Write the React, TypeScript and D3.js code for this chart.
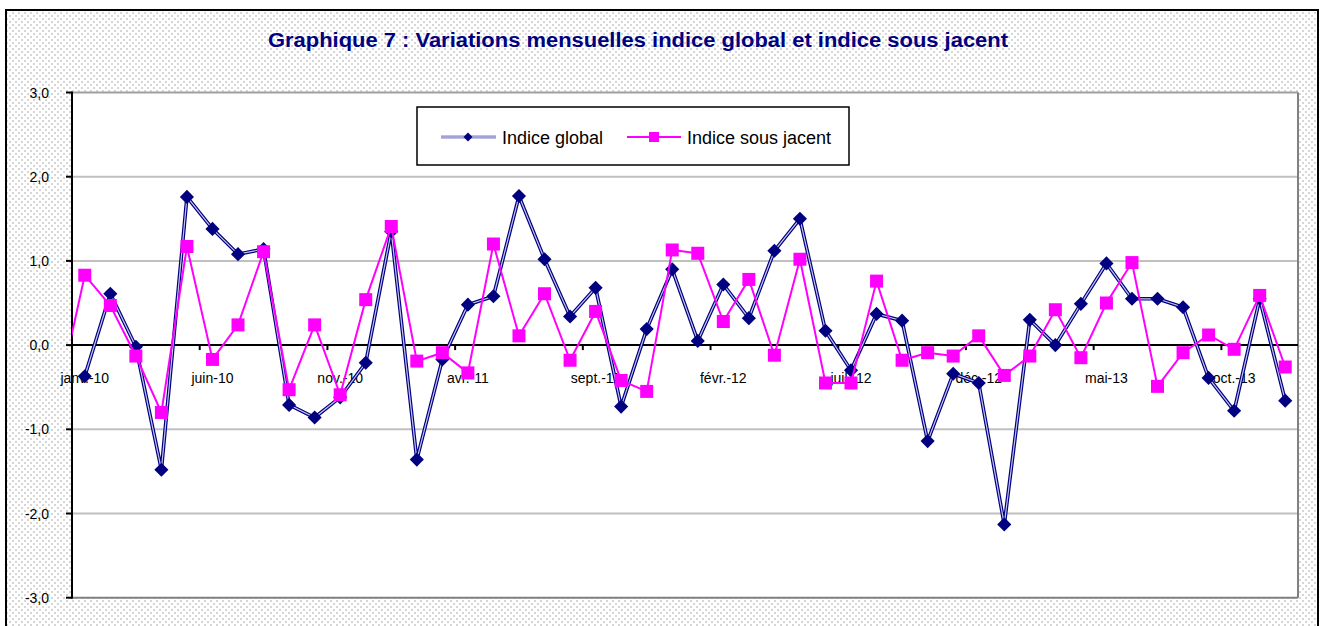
import React from "react";
import * as d3 from "d3";

const months = [
  "déc.-09",
  "janv.-10", "févr.-10", "mars-10", "avr.-10", "mai-10", "juin-10", "juil.-10", "août-10", "sept.-10", "oct.-10", "nov.-10", "déc.-10",
  "janv.-11", "févr.-11", "mars-11", "avr.-11", "mai-11", "juin-11", "juil.-11", "août-11", "sept.-11", "oct.-11", "nov.-11", "déc.-11",
  "janv.-12", "févr.-12", "mars-12", "avr.-12", "mai-12", "juin-12", "juil.-12", "août-12", "sept.-12", "oct.-12", "nov.-12", "déc.-12",
  "janv.-13", "févr.-13", "mars-13", "avr.-13", "mai-13", "juin-13", "juil.-13", "août-13", "sept.-13", "oct.-13", "nov.-13", "déc.-13",
];

const indiceGlobal: (number | null)[] = [
  null,
  -0.37, 0.61, -0.02, -1.48, 1.76, 1.38, 1.08, 1.14, -0.71, -0.86, -0.62, -0.21,
  1.35, -1.36, -0.17, 0.48, 0.58, 1.77, 1.02, 0.34, 0.68, -0.73, 0.19, 0.90,
  0.05, 0.72, 0.32, 1.12, 1.50, 0.17, -0.30, 0.37, 0.29, -1.14, -0.34, -0.45,
  -2.13, 0.30, 0.0, 0.49, 0.97, 0.55, 0.55, 0.45, -0.39, -0.78, 0.55, -0.66,
];

const indiceSousJacent: (number | null)[] = [
  -0.55,
  0.83, 0.47, -0.13, -0.80, 1.17, -0.17, 0.24, 1.11, -0.53, 0.24, -0.59, 0.54,
  1.41, -0.19, -0.09, -0.33, 1.20, 0.11, 0.61, -0.18, 0.40, -0.42, -0.55, 1.13,
  1.09, 0.28, 0.78, -0.12, 1.02, -0.45, -0.45, 0.76, -0.18, -0.09, -0.13, 0.11,
  -0.36, -0.13, 0.42, -0.15, 0.50, 0.98, -0.49, -0.09, 0.12, -0.05, 0.59, -0.26,
];

const yTicks = [3, 2, 1, 0, -1, -2, -3];
const labelEvery = 5;
const firstShown = 1;

const title = "Graphique 7 : Variations mensuelles indice global et indice sous jacent";
const legendLabels = ["Indice global", "Indice sous jacent"];

const FONT = "'Liberation Sans', Arial, sans-serif";
const NAVY = "#000080";
const PINK = "#ff00ff";

export default function App() {
  const W = 1327, H = 626;
  const plot = { left: 72, right: 1298, top: 92.5, bottom: 597.7 };
  const x = d3.scaleLinear().domain([firstShown - 0.5, months.length - 0.5]).range([plot.left, plot.right]);
  const y = d3.scaleLinear().domain([-3, 3]).range([plot.bottom, plot.top]);

  const line = d3
    .line<number | null>()
    .defined((d) => d !== null)
    .x((_, i) => x(i))
    .y((d) => y(d as number));

  const diamond = d3.symbol(d3.symbolSquare, 100)();
  const square = d3.symbol(d3.symbolSquare, 169)();

  const labelIdx = months.map((_, i) => i).filter((i) => i >= firstShown && (i - firstShown) % labelEvery === 0);
  const tickPos = d3.range(1, 10).map((k) => firstShown - 0.5 + k * labelEvery);

  const fmt = (v: number) => d3.format(".1f")(v).replace(".", ",").replace("−", "-");

  return (
    <svg width={W} height={H} style={{ position: "absolute", left: 0, top: 0 }} fontFamily={FONT}>
      <defs>
        <pattern id="dots" width="6" height="6" patternUnits="userSpaceOnUse">
          <rect width="6" height="6" fill="#ffffff" />
          <rect x="0" y="0" width="2" height="2" fill="#d6d6d6" />
          <rect x="3" y="3" width="2" height="2" fill="#d6d6d6" />
        </pattern>
        <clipPath id="plotClip">
          <rect x={plot.left} y={plot.top - 10} width={plot.right - plot.left} height={plot.bottom - plot.top + 20} />
        </clipPath>
      </defs>
      <rect width={W} height={H} fill="#ffffff" />
      <rect x={6} y={10} width={1312} height={640} fill="url(#dots)" stroke="#000" strokeWidth={2} />

      <text x={638} y={47} textAnchor="middle" fontSize={20} fontWeight="bold" fill={NAVY}
        textLength={740} lengthAdjust="spacingAndGlyphs">{title}</text>

      <rect x={plot.left} y={plot.top} width={plot.right - plot.left} height={plot.bottom - plot.top} fill="#ffffff" />

      {yTicks.filter((t) => t !== 0 && t !== 3 && t !== -3).map((t) => (
        <line key={t} x1={plot.left} x2={plot.right} y1={y(t)} y2={y(t)} stroke="#c0c0c0" strokeWidth={2} />
      ))}
      <line x1={plot.left} x2={plot.right} y1={y(3)} y2={y(3)} stroke="#a0a0a0" strokeWidth={2} />
      <line x1={plot.right} x2={plot.right} y1={plot.top} y2={plot.bottom} stroke="#808080" strokeWidth={2} />
      <line x1={plot.left} x2={plot.right} y1={plot.bottom} y2={plot.bottom} stroke="#808080" strokeWidth={2} />

      {yTicks.map((t) => (
        <g key={t}>
          <line x1={plot.left - 6} x2={plot.left} y1={y(t)} y2={y(t)} stroke="#000" strokeWidth={2} />
          <text x={49} y={y(t) + 5} textAnchor="end" fontSize={14} fill="#000">{fmt(t)}</text>
        </g>
      ))}
      <line x1={plot.left} x2={plot.left} y1={plot.top - 1} y2={plot.bottom + 1} stroke="#000" strokeWidth={2} />

      <line x1={plot.left} x2={plot.right} y1={y(0)} y2={y(0)} stroke="#000" strokeWidth={2} />
      {tickPos.map((p) => (
        <line key={p} x1={x(p)} x2={x(p)} y1={y(0)} y2={y(0) + 5} stroke="#000" strokeWidth={2} />
      ))}
      {labelIdx.map((i) => (
        <text key={i} x={x(i)} y={383} textAnchor="middle" fontSize={14} fill="#000">{months[i]}</text>
      ))}

      <g clipPath="url(#plotClip)">
        <path d={line(indiceGlobal) || ""} fill="none" stroke={NAVY} strokeWidth={3.6} />
        <path d={line(indiceGlobal) || ""} fill="none" stroke="#c4c4ee" strokeWidth={1.2} />
        {indiceGlobal.map((v, i) =>
          v === null ? null : (
            <path key={i} d={diamond || ""} transform={`translate(${x(i)},${y(v)}) rotate(45)`} fill={NAVY} />
          )
        )}
        <path d={line(indiceSousJacent) || ""} fill="none" stroke={PINK} strokeWidth={2} />
        {indiceSousJacent.map((v, i) =>
          v === null || i < firstShown ? null : (
            <path key={i} d={square || ""} transform={`translate(${x(i)},${y(v)})`} fill={PINK} />
          )
        )}
      </g>

      <g>
        <rect x={417} y={107} width={432} height={58} fill="#ffffff" stroke="#000" strokeWidth={1.5} />
        <line x1={441} x2={496} y1={137} y2={137} stroke="#8080c8" strokeWidth={3} />
        <line x1={441} x2={496} y1={137} y2={137} stroke="#c4c4ee" strokeWidth={1} />
        <path d={d3.symbol(d3.symbolSquare, 40)() || ""} transform="translate(468,137) rotate(45)" fill={NAVY} />
        <text x={502} y={143.5} fontSize={18} fill="#000">{legendLabels[0]}</text>
        <line x1={627} x2={681} y1={137} y2={137} stroke={PINK} strokeWidth={2} />
        <path d={d3.symbol(d3.symbolSquare, 100)() || ""} transform="translate(654,137)" fill={PINK} />
        <text x={687} y={143.5} fontSize={18} fill="#000">{legendLabels[1]}</text>
      </g>
    </svg>
  );
}
